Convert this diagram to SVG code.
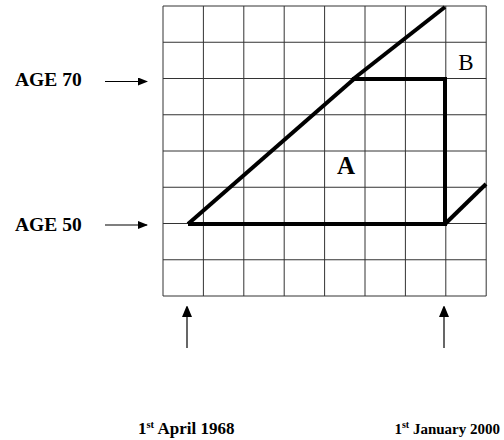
<svg xmlns="http://www.w3.org/2000/svg" width="504" height="440" viewBox="0 0 504 440">
<style>
.grid{stroke:#333;stroke-width:1;fill:none}
.thick{stroke:#000;stroke-width:4;fill:none;stroke-linecap:butt;stroke-linejoin:miter}
.lbl{font-family:"Liberation Serif","Times New Roman",serif;font-weight:bold;fill:#000}
.arr{stroke:#000;stroke-width:1.2;fill:none}
</style>
<defs>
<marker id="ah" markerWidth="10" markerHeight="8" refX="9" refY="4" orient="auto" markerUnits="userSpaceOnUse">
<path d="M0,0 L10,4 L0,8 Z" fill="#000"/>
</marker>
<marker id="ahv" markerWidth="10" markerHeight="12" refX="11" refY="5" orient="auto" markerUnits="userSpaceOnUse">
<path d="M0,0 L12,5 L0,10 Z" fill="#000"/>
</marker>
</defs>
<rect width="504" height="440" fill="#fff"/>
<g id="grid" class="grid">
<path d="M163,6V296M203.4,6V296M243.8,6V296M284.2,6V296M324.6,6V296M365,6V296M405.4,6V296M445.8,6V296M486.2,6V296"/>
<path d="M163,6H486.2M163,42.25H486.2M163,78.5H486.2M163,114.75H486.2M163,151H486.2M163,187.25H486.2M163,223.5H486.2M163,259.75H486.2M163,296H486.2"/>
</g>
<g id="region-A">
<path class="thick" d="M188,224 L354,79"/>
<path class="thick" d="M352,79 H445 V224 H188"/>
<text class="lbl" x="346" y="174" font-size="25" text-anchor="middle">A</text>
</g>
<g id="region-B">
<path class="thick" d="M352,80 L445,7"/>
<path class="thick" d="M445,224 L486,184"/>
<text x="466" y="70" font-size="23" text-anchor="middle" font-family="Liberation Serif, Times New Roman, serif" fill="#000">B</text>
</g>
<g id="age70">
<text class="lbl" x="15" y="86" font-size="19.5">AGE 70</text>
</g>
<g id="age50">
<text class="lbl" x="15" y="231" font-size="19.5">AGE 50</text>
</g>
<g id="date1968">
<text class="lbl" x="138" y="434" font-size="17">1<tspan font-size="10.5" dy="-6.5">st</tspan><tspan dy="6.5"> April 1968</tspan></text>
</g>
<g id="date2000">
<text class="lbl" x="500" y="434" font-size="15" text-anchor="end">1<tspan font-size="10" dy="-6">st</tspan><tspan dy="6"> January 2000</tspan></text>
</g>
<g id="connectors">
<line class="arr" x1="105" y1="81.5" x2="147" y2="81.5" marker-end="url(#ah)"/>
<line class="arr" x1="105" y1="225" x2="147" y2="225" marker-end="url(#ah)"/>
<line class="arr" x1="187" y1="348" x2="187" y2="306" marker-end="url(#ahv)"/>
<line class="arr" x1="444" y1="348" x2="444" y2="306" marker-end="url(#ahv)"/>
</g>
</svg>
